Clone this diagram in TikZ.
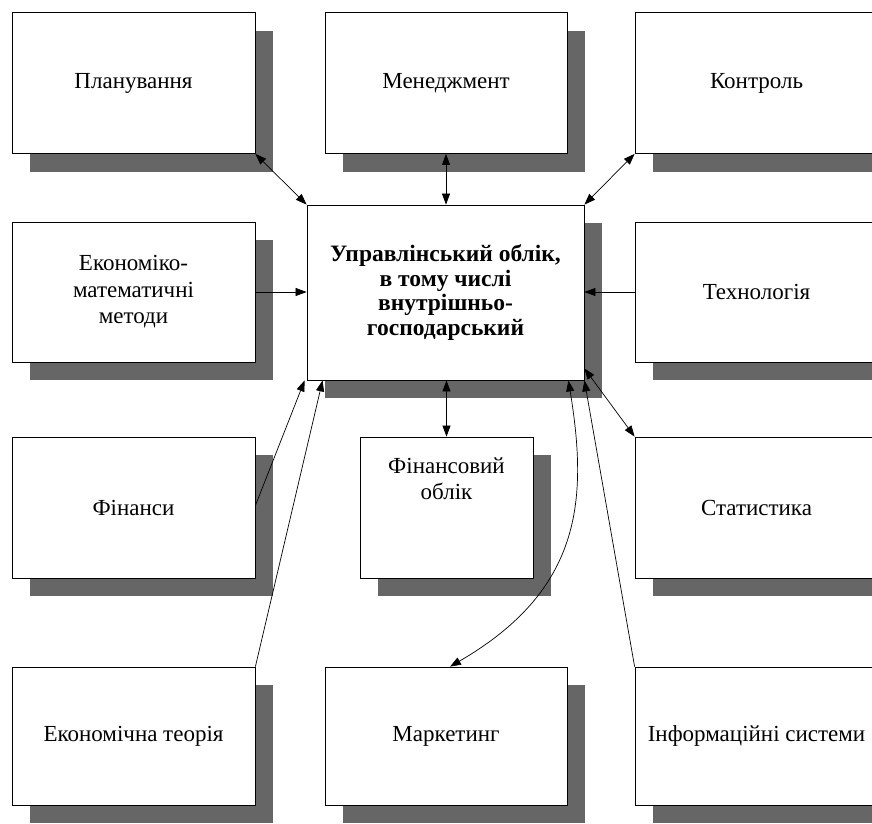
\documentclass[tikz,border=0pt]{standalone}
\usepackage{fontspec}
\setmainfont{Liberation Serif}
\usetikzlibrary{arrows.meta,shadows}
\definecolor{tin}{HTML}{666666}

\begin{document}
\begin{tikzpicture}[x=1pt, y=-1pt,
    blok/.style={draw, fill=white, line width=0.8pt, align=center,
      minimum width=243pt, minimum height=141pt,
      font=\fontsize{23}{26.5}\selectfont,
      general shadow={fill=tin, shadow xshift=18pt, shadow yshift=-18pt}},
    strilka/.style={line width=0.7pt, -{Triangle[length=11pt,width=8pt]}},
    dvi/.style={line width=0.7pt, {Triangle[length=11pt,width=8pt]}-{Triangle[length=11pt,width=8pt]}}]
  \useasboundingbox (0,0) rectangle (872,823);
  % верхній ряд
  \node[blok] (plan) at (133.5, 83) {Планування};
  \node[blok, minimum width=242pt] (men) at (446, 83) {Менеджмент};
  \node[blok] (kontr) at (756.5, 83) {Контроль};
  % другий ряд
  \node[blok, minimum height=140pt] (ekmat) at (133.5, 292) {Економіко-\\математичні\\методи};
  \node[blok, minimum width=277pt, minimum height=175pt, font=\fontsize{23.5}{24.5}\selectfont\bfseries]
    (uo) at (445.5, 292.5) {Управлінський облік,\\в тому числі\\внутрішньо-\\господарський};
  \node[blok, minimum height=140pt] (tech) at (756.5, 292) {Технологія};
  % третій ряд
  \node[blok] (fin) at (133.5, 507.5) {Фінанси};
  \node[blok, minimum width=173pt, text depth=58pt] (fo) at (446.5, 507.5) {Фінансовий\\облік};
  \node[blok] (stat) at (756.5, 507.5) {Статистика};
  % нижній ряд
  \node[blok, minimum height=138pt] (teor) at (133.5, 736) {Економічна теорія};
  \node[blok, minimum width=242pt, minimum height=138pt] (mark) at (446, 736) {Маркетинг};
  \node[blok, minimum height=138pt] (info) at (756.5, 736) {Інформаційні системи};
  % зв'язки
  \draw[dvi] (plan.south east) -- (uo.north west);
  \draw[dvi] (men.south) -- (uo.north -| men.south);
  \draw[dvi] (kontr.south west) -- (uo.north east);
  \draw[strilka] (ekmat.east) -- (ekmat.east -| uo.west);
  \draw[strilka] (tech.west) -- (tech.west -| uo.east);
  \draw[dvi] (uo.south -| fo.north) -- (fo.north);
  \draw[dvi] ([yshift=12pt]uo.south east) -- (stat.north west);
  \draw[strilka] ([yshift=2pt]fin.east) -- ([xshift=-2pt]uo.south west);
  \draw[strilka] (teor.north east) -- ([xshift=16pt]uo.south west);
  \draw[dvi] ([xshift=-16pt]uo.south east) .. controls (588,500) and (582,590) .. ([xshift=4pt]mark.north);
  \draw[strilka] (info.north west) -- (uo.south east);
\end{tikzpicture}
\end{document}
